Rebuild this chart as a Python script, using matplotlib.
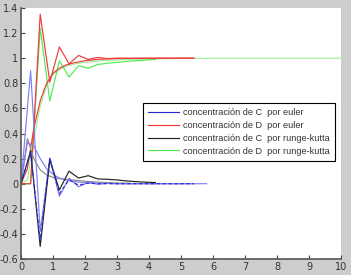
import numpy as np
import matplotlib
matplotlib.use("Agg")
import matplotlib.pyplot as plt
from matplotlib.ticker import FuncFormatter

# ---- data ----
labels = ["concentración de C  por euler",
          "concentración de D  por euler",
          "concentración de C  por runge-kutta",
          "concentración de D  por runge-kutta"]

# coarse runs, step 0.3
t_coarse_e = [0, 0.3, 0.6, 0.9, 1.2, 1.5, 1.8, 2.1, 2.4, 2.7, 3.0, 3.3, 3.6, 3.9, 4.2, 4.5, 4.8, 5.1, 5.4]
c_euler_a = [0, 0.9, -0.38, 0.2, -0.1, 0.045, -0.025, 0.01, -0.005, 0.003, -0.001, 0.0, 0, 0, 0, 0, 0, 0, 0]
c_euler_b = [0, 0.25, -0.45, 0.21, -0.08, 0.03, -0.012, 0.005, 0.0, 0.0, 0, 0, 0, 0, 0, 0, 0, 0, 0]
d_euler_a = [0, 0, 1.35, 0.81, 1.09, 0.955, 1.022, 0.99, 1.006, 0.997, 1.001, 1.0, 1, 1, 1, 1, 1, 1, 1]

t_coarse_rk = [0, 0.3, 0.6, 0.9, 1.2, 1.5, 1.8, 2.1, 2.4, 2.7, 3.0, 3.3, 3.6, 3.9, 4.2]
c_rk_a = [0, 0.26, -0.5, 0.19, -0.05, 0.1, 0.045, 0.064, 0.038, 0.035, 0.03, 0.022, 0.016, 0.012, 0.009]
d_rk_a = [0, 0, 1.24, 0.66, 0.98, 0.85, 0.94, 0.92, 0.95, 0.96, 0.967, 0.974, 0.98, 0.985, 0.99]

# finer runs
t_fine_e = [0, 0.2, 0.4, 0.6, 0.8, 1.0, 1.2, 1.4, 1.6, 1.8, 2.0, 2.2, 2.4, 2.6, 2.8, 3.0,
            3.4, 3.8, 4.2, 4.6, 5.0, 5.4, 5.8]
c_euler_f = [0, 0.33, 0.3, 0.2, 0.12, 0.075, 0.045, 0.03, 0.02, 0.013, 0.009, 0.006, 0.004, 0.003,
             0.002, 0.001, 0.0, 0, 0, 0, 0, 0, 0]
d_euler_f = [0, 0.12, 0.44, 0.66, 0.8, 0.88, 0.92, 0.945, 0.96, 0.97, 0.98, 0.985, 0.99, 0.993,
             0.995, 0.997, 0.998, 0.999, 1.0, 1.0, 1.0, 1.0, None]

t_fine_rk = [0, 0.2, 0.4, 0.6, 0.8, 1.0, 1.2, 1.4, 1.6, 1.8, 2.0, 2.2, 2.4, 2.6, 2.8, 3.0,
             3.4, 4.0, 5.0, 6.0, 8.0, 10.0]
c_rk_f = [0, 0.36, 0.2, 0.11, 0.07, 0.05, 0.04, 0.035, 0.03, 0.025, 0.02, 0.016, 0.013, 0.01,
          0.008, 0.006, 0.004, None, None, None, None, None]
d_rk_f = [0, 0.03, 0.35, 0.62, 0.78, 0.87, 0.91, 0.935, 0.95, 0.96, 0.967, 0.972, 0.976, 0.98,
          0.983, 0.986, 0.99, 0.994, 0.998, 1.0, 1.0, 1.0]

x_ticks = [0, 1, 2, 3, 4, 5, 6, 7, 8, 9, 10]
y_ticks = [-0.6, -0.4, -0.2, 0, 0.2, 0.4, 0.6, 0.8, 1.0, 1.2, 1.4]

# ---- styling ----
W, H = 351, 275
fig = plt.figure(figsize=(W / 100, H / 100), dpi=100, facecolor="#cdcdcd")
ax = fig.add_axes([21 / W, 1 - 259 / H, (341 - 21) / W, (259 - 8) / H])
ax.set_facecolor("white")

blue, lblue = "#2b2bd6", "#8080ee"
red, lred = "#ee3b3b", "#f08a8a"
black, grey = "#222222", "#8a8a8a"
green, lgreen = "#55e855", "#9cf09c"
lw = 0.85


def arr(v):
    return np.array([np.nan if a is None else a for a in v], dtype=float)


ax.plot(t_fine_rk, arr(d_rk_f), color=lgreen, lw=lw)
ax.plot(t_coarse_rk, arr(d_rk_a), color=green, lw=lw)
ax.plot(t_fine_e, arr(d_euler_f), color=red, lw=lw)
ax.plot(t_coarse_e, arr(d_euler_a), color=red, lw=lw)
ax.plot(t_fine_rk, arr(c_rk_f), color=grey, lw=lw)
ax.plot(t_fine_e, arr(c_euler_f), color=lblue, lw=lw)
ax.plot(t_coarse_e, arr(c_euler_a), color=lblue, lw=lw)
ax.plot(t_coarse_rk, arr(c_rk_a), color=black, lw=lw)
ax.plot(t_coarse_e, arr(c_euler_b), color=blue, lw=lw, dashes=(3, 2))

ax.set_xlim(0, 10)
ax.set_ylim(-0.6, 1.4)
ax.set_xticks(x_ticks)
ax.set_yticks(y_ticks)
fmt = FuncFormatter(lambda v, p: ("%g" % round(v, 2)))
ax.xaxis.set_major_formatter(fmt)
ax.yaxis.set_major_formatter(fmt)
ax.tick_params(direction="in", length=3, width=0.8, colors="#444444",
               labelsize=7, labelcolor="#333333", pad=2)
for s in ("top", "right"):
    ax.spines[s].set_visible(False)
for s in ("left", "bottom"):
    ax.spines[s].set_color("#555555")
    ax.spines[s].set_linewidth(1.2)

handles = [plt.Line2D([], [], color=c, lw=lw) for c in (blue, red, black, green)]
leg = fig.legend(handles, labels, loc="upper left",
                 bbox_to_anchor=(143 / W, 1 - 103 / H), bbox_transform=fig.transFigure,
                 borderaxespad=0, fancybox=False, framealpha=1, edgecolor="black",
                 prop={"family": "Liberation Sans", "size": 6.6},
                 handlelength=3.4, handletextpad=0.45, labelspacing=0.42, borderpad=0.55)
leg.get_frame().set_linewidth(0.8)
for tx in leg.get_texts():
    tx.set_color("#333333")

fig.savefig("out.png", dpi=100, facecolor=fig.get_facecolor())
